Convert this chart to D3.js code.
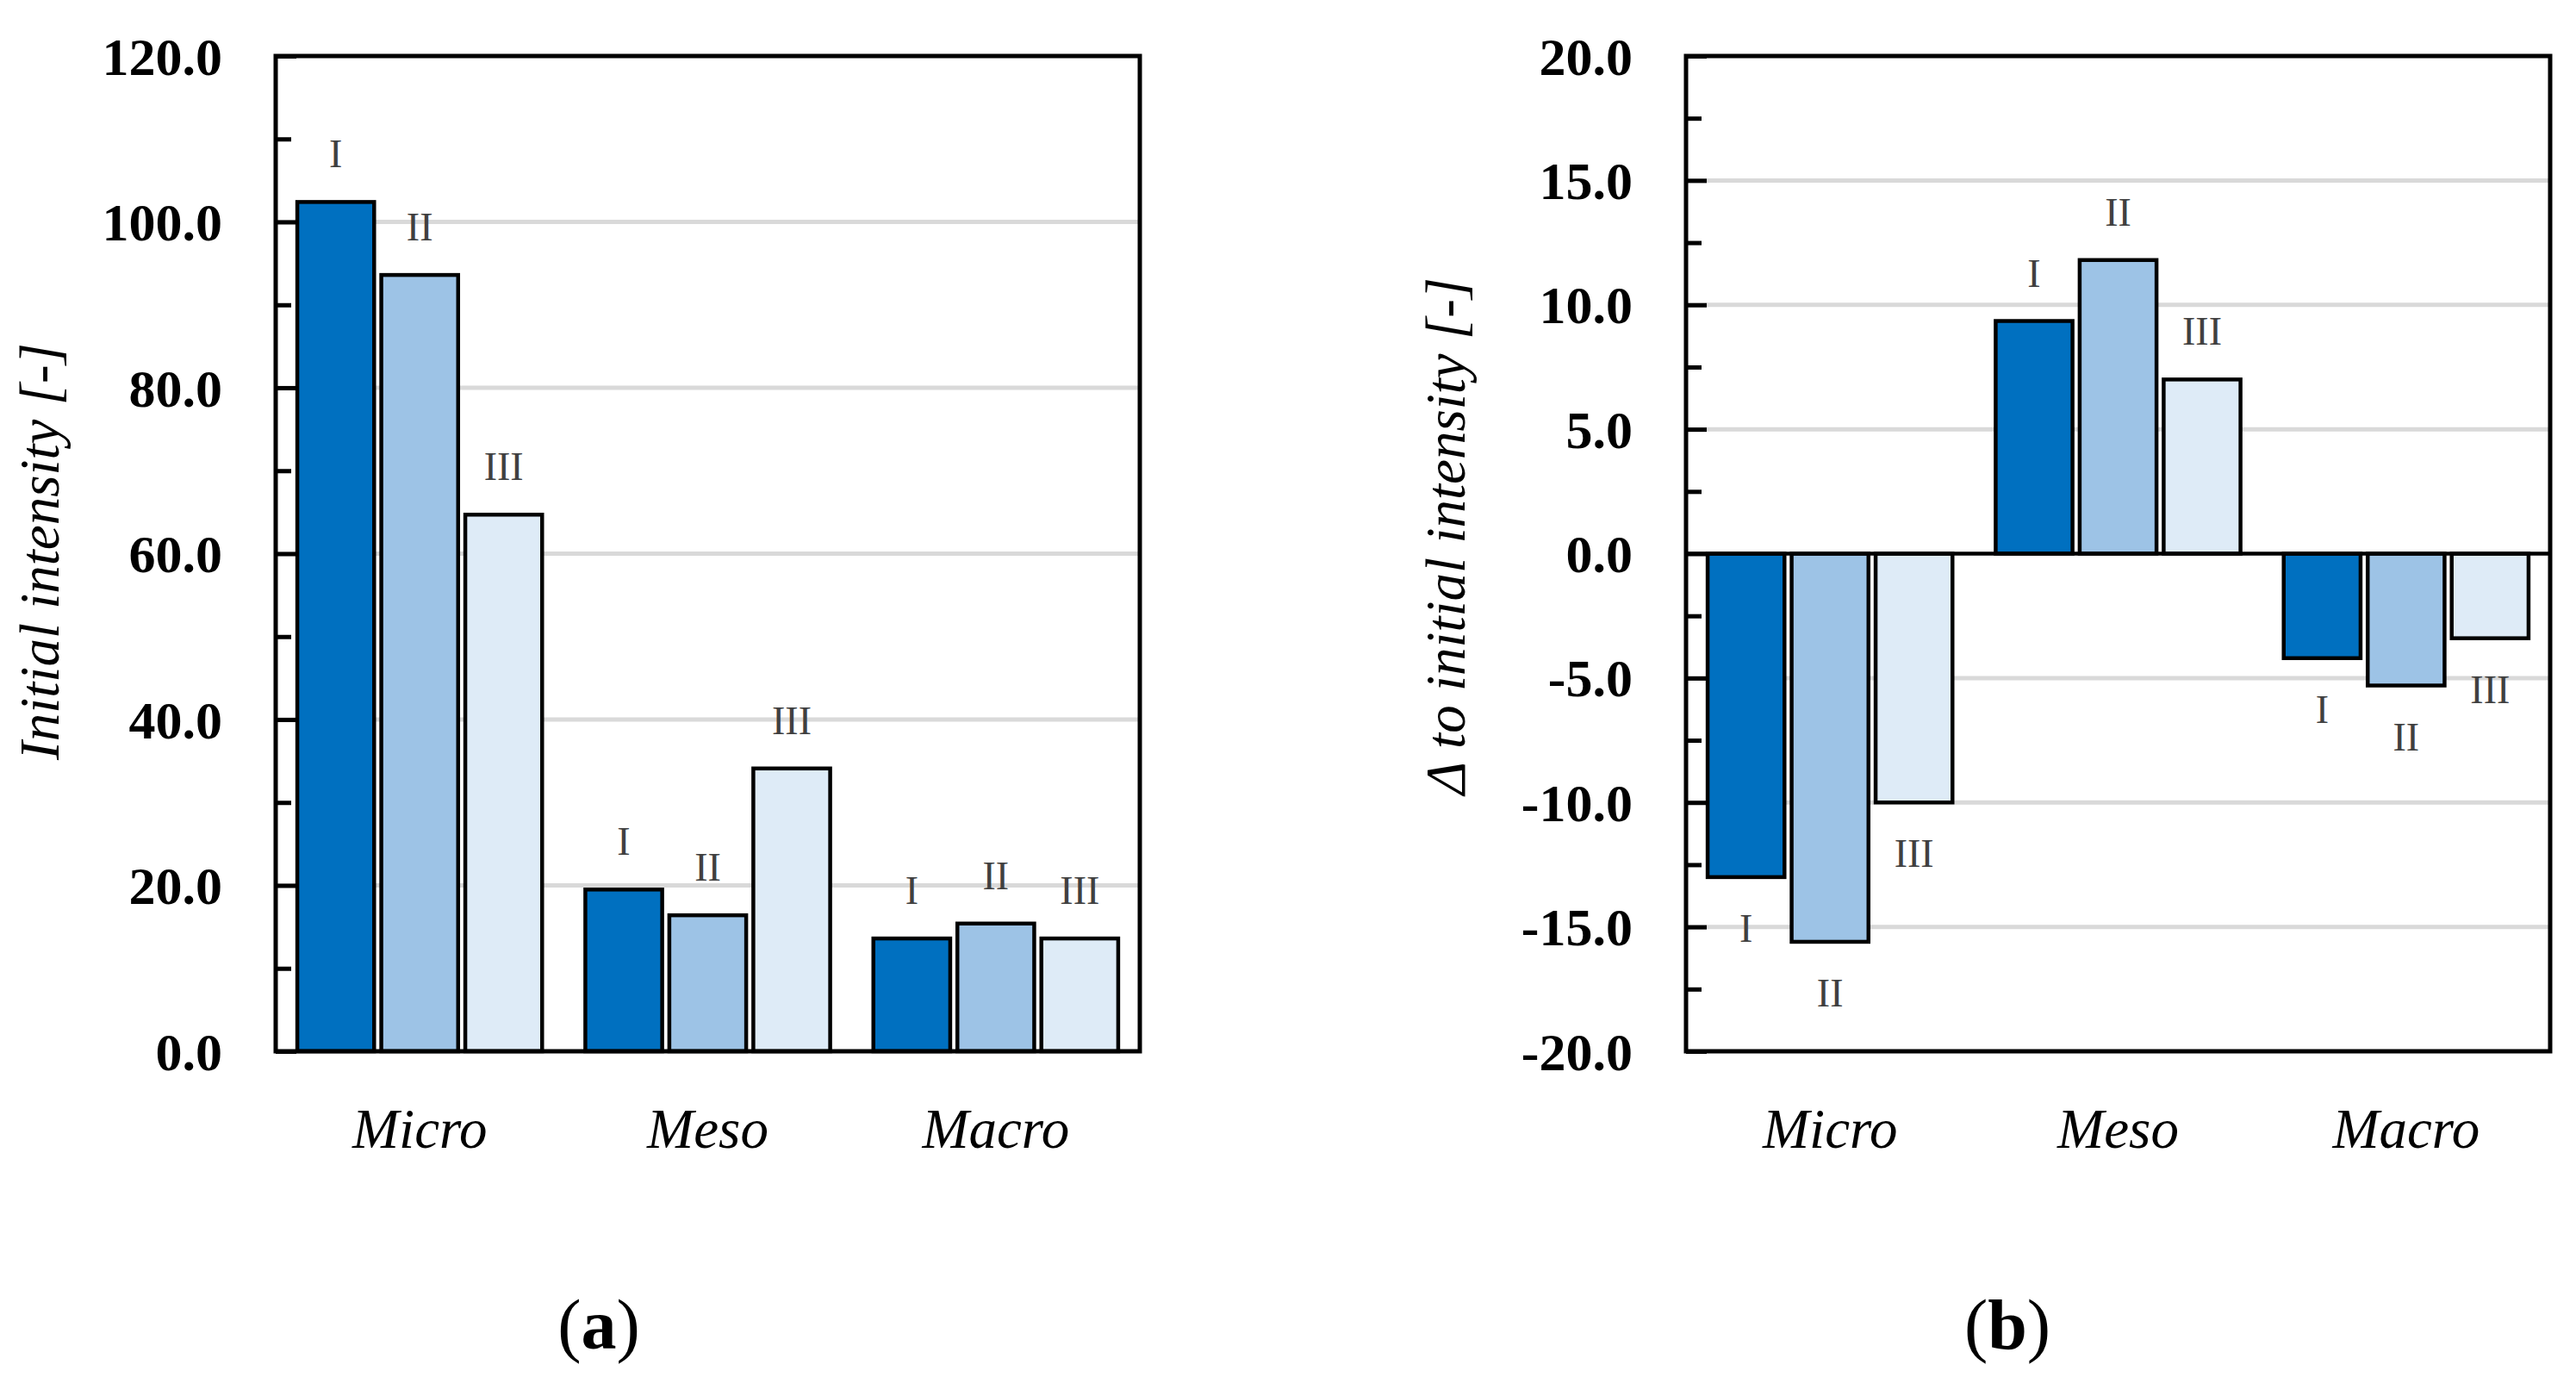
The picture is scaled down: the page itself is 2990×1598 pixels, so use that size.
<!doctype html>
<html lang="en">
<head>
<meta charset="UTF-8">
<title>Intensity</title>
<script src="https://d3js.org/d3.v7.min.js"></script>
<style>
  body { margin: 0; background: #fff; }
  text { font-family: "Liberation Serif", "DejaVu Serif", serif; }
</style>
</head>
<body>
<div id="chart"></div>
<script>
// data
const categories = ["Micro", "Meso", "Macro"];
const seriesNames = ["I", "II", "III"];
const seriesColors = ["#0070c0", "#9dc3e6", "#deebf7"];

// (a) initial intensity
const intensityI = [102.4, 19.5, 13.6];
const intensityII = [93.6, 16.4, 15.4];
const intensityIII = [64.7, 34.1, 13.6];

// (b) change to initial intensity
const deltaI = [-13.0, 9.35, -4.2];
const deltaII = [-15.6, 11.8, -5.3];
const deltaIII = [-10.0, 7.0, -3.4];

const ticksA = [0, 20, 40, 60, 80, 100, 120];
const minorA = [10, 30, 50, 70, 90, 110];
const ticksB = [-20, -15, -10, -5, 0, 5, 10, 15, 20];
const minorB = [-17.5, -12.5, -7.5, -2.5, 2.5, 7.5, 12.5, 17.5];

const W = 2990, H = 1598;
const svg = d3.select("#chart").append("svg")
  .attr("width", W)
  .attr("height", H);

function drawPanel(opt) {
  const top = 65, bottom = 1220;
  const x0 = d3.scaleBand()
    .domain(categories)
    .range([opt.left, opt.right])
    .paddingInner(0.15)
    .paddingOuter(0.075);
  const x1 = d3.scaleBand()
    .domain(seriesNames)
    .range([0, x0.bandwidth()])
    .paddingInner(0.085);
  const y = d3.scaleLinear().domain(opt.domain).range([bottom, top]);

  const g = svg.append("g");

  // grid lines
  g.selectAll(".grid")
    .data(opt.grid)
    .enter().append("line")
      .attr("x1", opt.left).attr("x2", opt.right)
      .attr("y1", d => y(d)).attr("y2", d => y(d))
      .attr("stroke", "#d9d9d9")
      .attr("stroke-width", 5);

  // bars
  const rows = [];
  categories.forEach((c, i) => {
    opt.values.forEach((vals, s) => {
      rows.push({ cat: c, ser: seriesNames[s], v: vals[i], s: s });
    });
  });

  g.selectAll(".bar")
    .data(rows)
    .enter().append("rect")
      .attr("x", d => x0(d.cat) + x1(d.ser))
      .attr("width", x1.bandwidth())
      .attr("y", d => y(Math.max(0, d.v)))
      .attr("height", d => Math.abs(y(d.v) - y(0)))
      .attr("fill", d => seriesColors[d.s])
      .attr("stroke", "#000")
      .attr("stroke-width", 4.5);

  // zero line for (b)
  if (opt.domain[0] < 0) {
    g.append("line")
      .attr("x1", opt.left).attr("x2", opt.right)
      .attr("y1", y(0)).attr("y2", y(0))
      .attr("stroke", "#000")
      .attr("stroke-width", 4.5);
  }

  // frame
  g.append("rect")
    .attr("x", opt.left).attr("y", top)
    .attr("width", opt.right - opt.left).attr("height", bottom - top)
    .attr("fill", "none")
    .attr("stroke", "#000")
    .attr("stroke-width", 5);

  // minor ticks
  const minorAxis = g.append("g")
    .attr("transform", "translate(" + opt.left + ",0)")
    .call(d3.axisLeft(y).tickValues(opt.minor).tickSize(-18).tickFormat(""));
  minorAxis.select(".domain").remove();
  minorAxis.selectAll("line").attr("stroke-width", 5);

  // major ticks with labels
  const majorAxis = g.append("g")
    .attr("transform", "translate(" + opt.left + ",0)")
    .call(d3.axisLeft(y).tickValues(opt.ticks).tickSize(-24).tickPadding(62)
      .tickFormat(d3.format(".1f")));
  majorAxis.select(".domain").remove();
  majorAxis.selectAll("line").attr("stroke-width", 5);
  majorAxis.selectAll("text")
    .attr("font-family", "'Liberation Serif', serif")
    .attr("font-size", 62)
    .attr("font-weight", "bold")
    .attr("fill", "#000")
    .attr("dy", "0.34em")
    .text(d => d3.format(".1f")(d).replace("−", "-"));

  // bar labels
  g.selectAll(".lbl")
    .data(rows)
    .enter().append("text")
      .attr("x", d => x0(d.cat) + x1(d.ser) + x1.bandwidth() / 2)
      .attr("y", d => d.v >= 0 ? y(d.v) - 40 : y(d.v) + 75)
      .attr("text-anchor", "middle")
      .attr("font-size", 46)
      .attr("fill", "#404040")
      .text(d => d.ser);

  // category labels
  g.selectAll(".cat")
    .data(categories)
    .enter().append("text")
      .attr("x", d => x0(d) + x0.bandwidth() / 2)
      .attr("y", 1332)
      .attr("text-anchor", "middle")
      .attr("font-size", 65)
      .attr("font-style", "italic")
      .text(d => d);

  // y title
  g.append("text")
    .attr("transform", "translate(" + opt.titleX + "," + opt.titleY + ") rotate(-90)")
    .attr("text-anchor", "middle")
    .attr("font-size", 65)
    .attr("font-style", "italic")
    .text(opt.title);

  // panel letter
  const p = g.append("text")
    .attr("x", opt.letterX)
    .attr("y", 1565)
    .attr("text-anchor", "middle")
    .attr("font-size", 82);
  p.append("tspan").text("(");
  p.append("tspan").attr("font-weight", "bold").text(opt.letter);
  p.append("tspan").text(")");
}

drawPanel({
  left: 320, right: 1323,
  domain: [0, 120],
  ticks: ticksA, minor: minorA,
  grid: [20, 40, 60, 80, 100],
  values: [intensityI, intensityII, intensityIII],
  title: "Initial intensity [-]",
  titleX: 68, titleY: 640,
  letter: "a", letterX: 695
});

drawPanel({
  left: 1957, right: 2960,
  domain: [-20, 20],
  ticks: ticksB, minor: minorB,
  grid: [-15, -10, -5, 5, 10, 15],
  values: [deltaI, deltaII, deltaIII],
  title: "\u0394 to initial intensity [-]",
  titleX: 1700, titleY: 622,
  letter: "b", letterX: 2330
});
</script>
</body>
</html>
